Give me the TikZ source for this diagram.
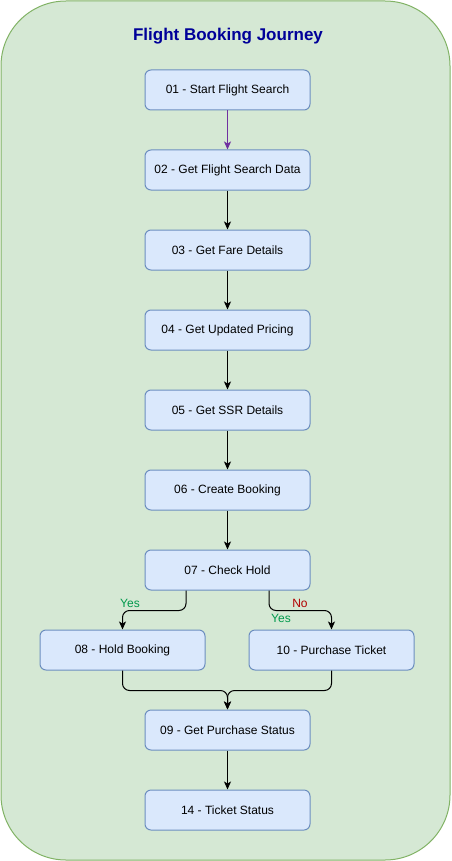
\documentclass[tikz,border=0pt]{standalone}
\usepackage{fontspec}
\setmainfont{Liberation Sans}
\usetikzlibrary{arrows.meta}
\definecolor{contfill}{HTML}{D5E8D4}
\definecolor{contdraw}{HTML}{82B366}
\definecolor{boxfill}{HTML}{DAE8FC}
\definecolor{boxdraw}{HTML}{6C8EBF}
\definecolor{titleblue}{HTML}{000099}
\definecolor{edgepurple}{HTML}{7030A0}
\definecolor{yesgreen}{HTML}{00994C}
\definecolor{nored}{HTML}{B20000}
\tikzset{
  stepbox/.style={draw=boxdraw, fill=boxfill, line width=1pt, rounded corners=6pt,
    minimum width=165pt, minimum height=40pt, inner sep=0pt,
    font=\fontsize{12pt}{14pt}\selectfont, text=black},
  arr/.style={draw=black, line width=1pt, -{Stealth[length=8pt,width=7pt,inset=2pt]}},
  lbl/.style={font=\fontsize{12pt}{14pt}\selectfont, inner sep=0pt}
}
\begin{document}
\begin{tikzpicture}[x=1pt,y=-1pt]
\useasboundingbox (0,0) rectangle (451,861);
\path[fill=contfill, draw=contdraw, line width=1pt, rounded corners=65pt] (1,1) rectangle (450,860);
\node[font=\fontsize{17pt}{20pt}\selectfont\bfseries, text=titleblue] (title) at (228,36) {Flight Booking Journey};
\node[stepbox] (n01) at (227.5,90) {01 - Start Flight Search};
\node[stepbox] (n02) at (227.5,170) {02 - Get Flight Search Data};
\node[stepbox] (n03) at (227.5,250) {03 - Get Fare Details};
\node[stepbox] (n04) at (227.5,330) {04 - Get Updated Pricing};
\node[stepbox] (n05) at (227.5,410) {05 - Get SSR Details};
\node[stepbox] (n06) at (227.5,490) {06 - Create Booking};
\node[stepbox] (n07) at (227.5,570) {07 - Check Hold};
\node[stepbox] (n08) at (122.5,650) {08 - Hold Booking};
\node[stepbox] (n10) at (331.5,650) {10 - Purchase Ticket};
\node[stepbox] (n09) at (227.5,730) {09 - Get Purchase Status};
\node[stepbox] (n14) at (227.5,810) {14 - Ticket Status};
\draw[arr, draw=edgepurple] (n01) -- (n02);
\draw[arr] (n02) -- (n03);
\draw[arr] (n03) -- (n04);
\draw[arr] (n04) -- (n05);
\draw[arr] (n05) -- (n06);
\draw[arr] (n06) -- (n07);
\draw[arr, rounded corners=7pt] ([xshift=-41.5pt]n07.south) -- ++(0,20) -| (n08.north);
\draw[arr, rounded corners=7pt] ([xshift=41.5pt]n07.south) -- ++(0,20) -| (n10.north);
\draw[arr, rounded corners=7pt] (n08.south) -- ++(0,20) -| (n09.north);
\draw[arr, rounded corners=7pt] (n10.south) -- ++(0,20) -| (n09.north);
\draw[arr] (n09) -- (n14);
\node[lbl, text=yesgreen] (yes1) at (130,603) {Yes};
\node[lbl, text=nored] (no1) at (300,603) {No};
\node[lbl, text=yesgreen] (yes2) at (281,618) {Yes};
\end{tikzpicture}
\end{document}
